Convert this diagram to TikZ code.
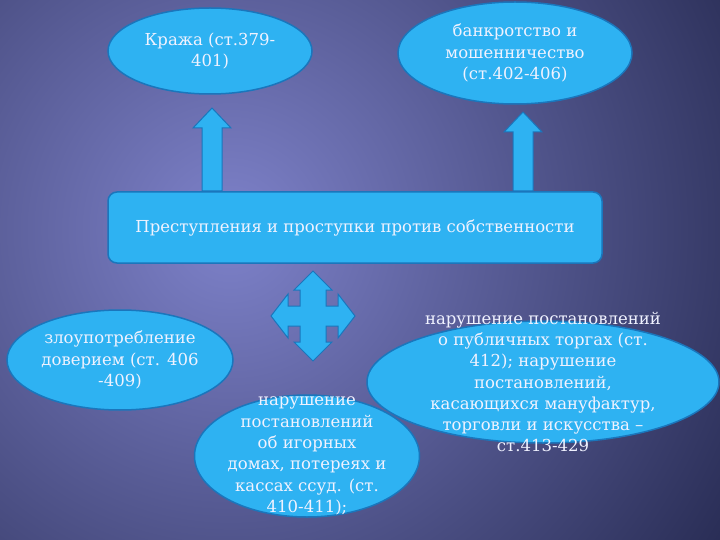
\documentclass[tikz,border=0pt]{standalone}
\usepackage{fontspec}
\setmainfont{DejaVu Serif}
\usetikzlibrary{shapes.geometric}

\definecolor{bgLight}{RGB}{126,130,202}
\definecolor{bgDark}{RGB}{30,34,70}
\definecolor{blobFill}{RGB}{46,178,242}
\definecolor{blobEdge}{RGB}{26,118,188}
\definecolor{txtCol}{RGB}{240,242,255}

\begin{document}
\begin{tikzpicture}[
  x=1pt, y=-1pt,
  blob/.style={
    ellipse, draw=blobEdge, fill=blobFill, line width=1.5pt, inner sep=0pt
  },
  txt/.style={
    align=center, text=txtCol, font=\fontsize{16.5}{21.3}\selectfont
  },
  box/.style={
    rectangle, rounded corners=9pt, draw=blobEdge, fill=blobFill,
    line width=1.5pt, txt
  },
  bigarrow/.style={fill=blobFill, draw=blobEdge, line width=1pt}
]
\useasboundingbox (0,0) rectangle (720,540);
% background
\begin{scope}
  \clip (0,0) rectangle (720,540);
  \shade[inner color=bgLight, outer color=bgDark] (230,230) circle[radius=660pt];
\end{scope}

% top ellipses
\node[blob, minimum width=204pt, minimum height=86pt] (theft) at (210,51) {};
\node[txt] (theftTxt) at (theft) {Кража (ст.379-\\401)};

\node[blob, minimum width=234pt, minimum height=102pt] (fraud) at (515,53) {};
\node[txt] (fraudTxt) at (fraud) {банкротство и\\мошенничество\\(ст.402-406)};

% central box
\node[box, minimum width=494pt, minimum height=71pt] (crimes) at (355,227.5)
  {Преступления и проступки против собственности};

% arrows up
\foreach \cx/\tip in {212/108, 523/112}
  \draw[bigarrow] (\cx-10,191) -- (\cx-10,\tip+20) -- (\cx-19,\tip+20)
    -- (\cx,\tip) -- (\cx+19,\tip+20) -- (\cx+10,\tip+20) -- (\cx+10,191) -- cycle;

% four-way arrow
\draw[bigarrow, shift={(313,316)}]
  (0,-45) -- (19,-26) -- (13,-26) -- (13,-10) -- (25,-10) -- (25,-22)
  -- (42,0) -- (25,22) -- (25,10) -- (13,10) -- (13,26) -- (19,26)
  -- (0,45) -- (-19,26) -- (-13,26) -- (-13,10) -- (-25,10) -- (-25,22)
  -- (-42,0) -- (-25,-22) -- (-25,-10) -- (-13,-10) -- (-13,-26)
  -- (-19,-26) -- cycle;

% lower ellipses
\node[blob, minimum width=226pt, minimum height=100pt] (trust) at (120,360) {};
\node[blob, minimum width=352pt, minimum height=122pt] (trade) at (543,382) {};
\node[blob, minimum width=225pt, minimum height=122pt] (games) at (307,456) {};

\node[txt] (trustTxt) at (trust) {злоупотребление\\доверием (ст. 406\\-409)};
\node[txt] (tradeTxt) at (trade) {нарушение постановлений\\о публичных торгах (ст.\\412); нарушение\\постановлений,\\касающихся мануфактур,\\торговли и искусства –\\ст.413-429};
\node[txt] (gamesTxt) at (games) {нарушение\\постановлений\\об игорных\\домах, потереях и\\кассах ссуд. (ст.\\410-411);};
\end{tikzpicture}
\end{document}
